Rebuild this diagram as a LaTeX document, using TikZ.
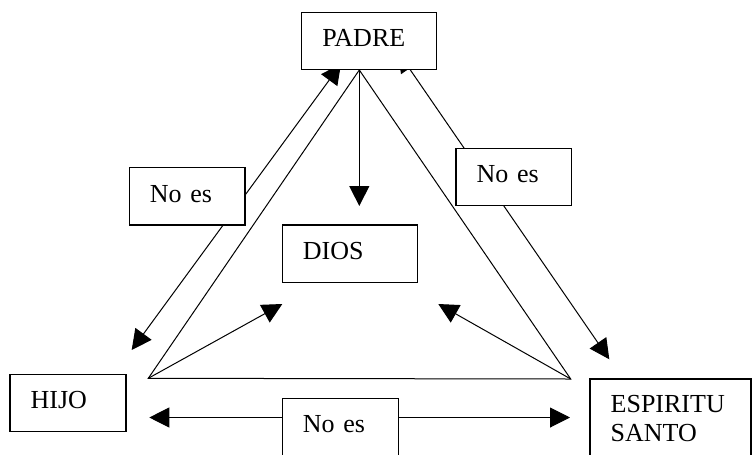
\documentclass[tikz,border=0pt]{standalone}
\usepackage{fontspec}
\setmainfont{Liberation Serif}
\newfontfamily\boxfont{Liberation Serif}
\usetikzlibrary{arrows.meta}

\begin{document}
\begin{tikzpicture}[x=0.75pt,y=0.75pt,yscale=-1,xscale=1,
    box/.style={draw, fill=white, line width=1pt, anchor=north west, outer sep=0pt,
      inner xsep=15.5pt, inner ysep=0pt, align=left, text height=14pt, text depth=5pt,
      minimum height=43pt, font=\boxfont\fontsize{19.5}{21.75}\selectfont},
    conn/.style={line width=0.75pt},
    onearrow/.style={-{Triangle[length=15pt,width=15pt]}},
    twoarrows/.style={{Triangle[length=15pt,width=15pt]}-{Triangle[length=15pt,width=15pt]}}]
        \clip (0,0) rectangle (756,454);

        %Points of the triangle and arrow ends
        \coordinate (apex) at (359.3,70);
        \coordinate (cornerL) at (148.3,378.3);
        \coordinate (cornerR) at (570.7,379);
        \coordinate (diosTop) at (359.3,206);
        \coordinate (diosTipL) at (282.3,304);
        \coordinate (diosTipR) at (438.3,304);
        \coordinate (padreTipL) at (341,64);
        \coordinate (hijoTip) at (131.7,350);
        \coordinate (padreTipR) at (398,52);
        \coordinate (espTip) at (609.3,359.3);
        \coordinate (hijoSide) at (149.3,417.5);
        \coordinate (espSide) at (570,417.5);

        %Shape: Triangle
        \draw [conn] (apex) -- (cornerL) -- (cornerR) -- cycle ;
        %Straight Lines
        \draw [conn, onearrow] (apex) -- (diosTop) ;
        \draw [conn, onearrow] (cornerL) -- (diosTipL) ;
        \draw [conn, onearrow] (cornerR) -- (diosTipR) ;
        \draw [conn, twoarrows] (hijoTip) -- (padreTipL) ;
        \draw [conn, twoarrows] (padreTipR) -- (espTip) ;
        \draw [conn, twoarrows] (hijoSide) -- (espSide) ;

        %Shape: Rectangle
        \node [box, minimum width=101.25pt, text width=70.25pt] (padre) at (301.7,12.3) {PADRE};
        \node [box, minimum width=101.25pt, text width=70.25pt] (dios) at (282.3,225) {DIOS};
        \node [box, minimum width=87pt, text width=56pt] (hijo) at (10,374.3) {HIJO};
        \node [box, minimum width=120.75pt, text width=89.75pt, minimum height=60pt, text depth=23.45pt] (espiritu) at (590,379) {ESPIRITU\\SANTO};
        \node [box, minimum width=86.8pt, text width=55.8pt] (noesL) at (129.3,167.7) {No es};
        \node [box, minimum width=86.8pt, text width=55.8pt] (noesR) at (456,148.3) {No es};
        \node [box, minimum width=87pt, text width=56pt] (noesB) at (282.3,398.3) {No es};
\end{tikzpicture}
\end{document}
